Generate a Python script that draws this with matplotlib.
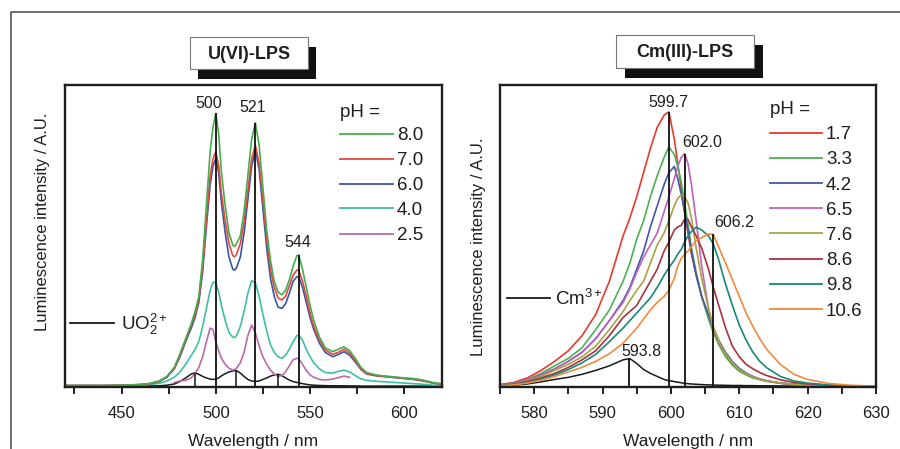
import numpy as np
import matplotlib
matplotlib.use("Agg")
import matplotlib.pyplot as plt
from matplotlib.patches import Rectangle
from matplotlib.lines import Line2D
from matplotlib.ticker import MultipleLocator

plt.rcParams['font.family'] = ['Liberation Sans', 'DejaVu Sans']
plt.rcParams['mathtext.fontset'] = 'custom'
plt.rcParams['mathtext.rm'] = 'Liberation Sans'
plt.rcParams['mathtext.it'] = 'Liberation Sans:italic'
plt.rcParams['mathtext.bf'] = 'Liberation Sans:bold'

W, H = 900, 449
nan = np.nan

# ---- U(VI)-LPS spectra ----
wl_u = np.array([420, 440, 450, 460, 465, 470, 474, 478, 481, 484,
                 487, 489, 491, 493, 495, 497, 498.5, 500, 501.5, 503,
                 505, 507, 509, 510, 511, 513, 515, 517, 519, 521,
                 523, 525, 527, 529, 531, 533, 535, 537, 539, 541,
                 543, 544, 546, 548, 550, 552, 555, 558, 562, 565,
                 568, 571, 574, 577, 580, 585, 590, 595, 600, 605,
                 610, 615, 620])
u_ph80 = [0.5, 0.5, 0.6, 0.8, 1.2, 2, 3.5, 6.5, 11, 16,
          21, 25, 30, 42, 60, 78, 86, 90.6, 84, 71,
          60, 51, 47, 46.5, 47.5, 50, 58, 70, 82, 87.5,
          80, 66, 52, 42, 35, 31.5, 30.5, 32, 35.5, 40,
          43.5, 43.7, 39, 33, 27, 22, 16.5, 13, 11.7, 12.5,
          13.3, 12, 9.5, 6.5, 4.8, 4, 3.6, 3.3, 3, 2.8,
          2.3, 1.5, 1]
u_ph70 = [0.5, 0.5, 0.6, 0.8, 1.1, 1.9, 3.3, 6.2, 10.5, 15.5,
          20.5, 24, 29, 40, 55, 70, 75.5, 77.9, 73.5, 64,
          55, 47.5, 43.5, 43.1, 44, 47.5, 54.5, 65, 75.5, 80.1,
          74, 62, 49, 39, 33, 29.5, 28.8, 30, 33.5, 37,
          38.7, 38.7, 35, 30, 24.5, 20, 15.5, 12.3, 10.8, 11.5,
          12.5, 11.2, 8.8, 6.1, 4.5, 3.8, 3.5, 3.2, 2.9, 2.6,
          2.1, 1.4, 1]
u_ph60 = [0.5, 0.5, 0.6, 0.8, 1.1, 1.8, 3.2, 6, 10, 15,
          19.5, 23, 28, 38, 53, 67, 73, 75.7, 71, 61,
          51, 43, 39, 38.7, 39.5, 43, 51, 62, 73, 78.5,
          72, 59, 46, 36, 30, 26.5, 26, 27.5, 31, 35,
          36.5, 36.5, 33, 28, 23, 19, 14.5, 11.5, 10, 10.8,
          11.7, 10.5, 8.3, 5.8, 4.3, 3.7, 3.4, 3.1, 2.8, 2.5,
          2, 1.3, 0.9]
u_ph40 = [0.4, 0.4, 0.5, 0.6, 0.8, 1.2, 2, 3.2, 5, 7.5,
          10.5, 12.5, 15, 20, 26, 32, 34.7, 34.5, 31.5, 27,
          22, 18, 16.5, 16.4, 17, 20, 25, 31, 35.2, 34.5,
          30, 24, 18.5, 14, 11.5, 10, 9.5, 10.5, 12.5, 15,
          17, 17.2, 15.5, 12.5, 10, 8, 6, 4.8, 4.6, 5.2,
          5.6, 5, 3.8, 2.7, 2.2, 1.9, 1.7, 1.5, 1.3, 1.1,
          0.9, 0.6, 0.5]
u_ph25 = [nan, nan, nan, nan, nan, nan, nan, 1.5, 2, 2.2,
          3, 4.5, 6.5, 10, 15, 19.5, 19, 15, 12, 9.5,
          7.5, 6.2, 5.6, 5.8, 6.2, 8, 11.5, 17, 20.5, 18,
          13.5, 10, 7.5, 5.6, 4.3, 3.5, 3.8, 5, 7, 9,
          9.5, 9.3, 7.5, 5.5, 4, 3.2, 2.5, 2.3, 2.6, 3.1,
          3.6, 3.2, nan, nan, nan, nan, nan, nan, nan, nan,
          nan, nan, nan]
u_free = [0.3, 0.3, 0.3, 0.3, 0.35, 0.4, 0.6, 1, 1.8, 3,
          4.3, 4.7, 4.2, 3.5, 3, 2.6, 2.5, 2.6, 3, 3.7,
          4.4, 5, 5.3, 5.4, 5.4, 4.6, 3.5, 2.5, 2, 1.8,
          2, 2.5, 3, 3.6, 4, 4.2, 3.8, 3, 2.3, 1.8,
          1.5, 1.4, 1.1, 0.9, 0.7, 0.6, 0.5, 0.45, 0.4, 0.4,
          0.4, 0.35, 0.35, 0.3, 0.3, 0.3, 0.3, 0.3, 0.3, 0.3,
          0.3, 0.3, 0.3]
u_labels = ['8.0', '7.0', '6.0', '4.0', '2.5']
u_colors = ['#45ad4c', '#e8473c', '#3b55a6', '#3dbfa6', '#b96aab']
u_peaks = [500, 521, 544]
u_free_peaks = [489, 510.5, 533]

# ---- Cm(III)-LPS spectra ----
wl_cm = np.array([575, 577, 579, 581, 583, 585, 587, 589, 591, 593,
                  594, 595, 596, 597, 598, 599, 599.7, 600.5, 601, 601.5,
                  602, 602.5, 603, 603.7, 604.5, 605.5, 606.2, 607, 608, 609,
                  610, 611, 612, 613, 614, 616, 618, 620, 623, 626,
                  630])
cm_ph17 = [0.8, 1.5, 3, 5.5, 8.5, 12, 17, 24, 35, 50,
           56, 63, 71, 79, 86, 90, 91.1, 82, 74, 66,
           58, 51, 44, 37, 30, 23, 18.5, 14.5, 10.5, 7.5,
           5.5, 4.2, 3.2, 2.5, 2, 1.3, 0.9, 0.6, 0.4, 0.3,
           0.2]
cm_ph33 = [0.7, 1.3, 2.5, 4.5, 7, 9.5, 13, 19, 25.5, 35,
           41, 49, 55, 63, 70, 76, 79.5, 77, 73, 68,
           61, 54, 46, 38, 30, 22.5, 18, 14, 10, 7.2,
           5.2, 4, 3, 2.4, 1.9, 1.2, 0.8, 0.6, 0.4, 0.3,
           0.2]
cm_ph42 = [0.6, 1.2, 2.3, 4, 6, 8.5, 11.5, 16, 22, 28.6,
           33, 39, 45, 53, 60, 67, 71, 73, 69, 64,
           58, 52, 45, 37, 30, 24, 19.7, 15.5, 11.5, 8.4,
           6.2, 4.6, 3.5, 2.7, 2.1, 1.3, 0.9, 0.6, 0.4, 0.3,
           0.2]
cm_ph65 = [0.6, 1.2, 2.3, 4, 6, 8.5, 11.5, 16, 22, 28,
           32.5, 38, 43, 47, 51, 58, 63, 69, 73, 76,
           77.3, 74, 67, 55, 40, 26, 19.5, 15, 11, 8,
           5.8, 4.3, 3.3, 2.6, 2, 1.3, 0.9, 0.6, 0.4, 0.3,
           0.2]
cm_ph76 = [0.5, 1, 2, 3.5, 5.5, 7.5, 10, 13.5, 19, 25,
           28.6, 32, 35, 41, 47, 51, 55, 60, 62.5, 63.5,
           63, 61, 56, 46, 36, 26, 20, 15.3, 11, 8,
           5.8, 4.3, 3.3, 2.6, 2, 1.3, 0.9, 0.6, 0.4, 0.3,
           0.2]
cm_ph86 = [0.5, 0.9, 1.8, 3, 4.5, 6.5, 9, 12, 17, 23,
           25, 27, 31, 35, 39, 45, 48, 52, 53, 53.5,
           55.5, 55.5, 53, 50, 46, 39, 33, 27, 19.5, 13.5,
           10, 7.5, 6, 4.8, 3.8, 2.4, 1.5, 1, 0.6, 0.4,
           0.2]
cm_ph98 = [0.4, 0.8, 1.5, 2.6, 4, 5.8, 8, 10.8, 15, 19.5,
           22, 24.5, 27, 29.5, 33, 37, 39.5, 42, 44, 45.5,
           48, 50, 51.5, 52.9, 52, 50, 47.4, 42, 34, 27,
           20.5, 15.5, 11.5, 8.5, 6.4, 3.5, 2, 1.3, 0.7, 0.4,
           0.2]
cm_ph106 = [0.4, 0.7, 1.3, 2.2, 3.5, 5, 6.5, 8.5, 11, 14.5,
            17, 19.5, 22.5, 25.5, 28, 30, 32, 36, 40, 42.5,
            44, 45, 46.5, 48.5, 49.5, 50.7, 50.5, 46.3, 41, 35.5,
            30, 24.5, 20, 16, 12.5, 7.5, 4.2, 2.5, 1.2, 0.6,
            0.3]
cm_free = [0.3, 0.6, 1, 1.7, 2.5, 3.2, 4.2, 5.5, 7, 9,
           9.4, 7.8, 5.8, 4.5, 3.5, 2.5, 2.1, 1.8, 1.6, 1.4,
           1.2, 1.1, 1, 0.9, 0.8, 0.7, 0.65, 0.6, 0.55, 0.5,
           0.5, 0.45, 0.45, 0.4, 0.4, 0.35, 0.3, 0.3, 0.25, 0.2,
           0.2]
cm_labels = ['1.7', '3.3', '4.2', '6.5', '7.6', '8.6', '9.8', '10.6']
cm_colors = ['#e8392e', '#4cb051', '#4156ad', '#c062bd', '#a9a243',
             '#a8323f', '#15897a', '#f08a3c']
cm_peaks = [593.8, 599.7, 602.0, 606.2]


def fx(px):
    return px / W


def fy(py):
    return 1 - py / H


fig = plt.figure(figsize=(W / 100, H / 100), dpi=100)


def put_text(px, py, s, fs, **kw):
    # place text so that its digit/cap centre sits at pixel row py
    fig.text(fx(px), fy(py + 0.358 * fs * 100 / 72), s, fontsize=fs,
             va='baseline', color='#1e1e1e', **kw)


def setup_axes(ax, xlim, major, minor):
    ax.set_xlim(*xlim)
    ax.set_ylim(0, 100)
    ax.set_yticks([])
    ax.xaxis.set_major_locator(MultipleLocator(major))
    ax.xaxis.set_minor_locator(MultipleLocator(minor))
    ax.tick_params(axis='x', which='both', direction='out', length=5,
                   width=1.4, pad=9, labelsize=12, color='#1e1e1e',
                   labelcolor='#1e1e1e')
    for s in ax.spines.values():
        s.set_linewidth(1.7)
        s.set_color('#1e1e1e')
    ax.set_xlabel('Wavelength / nm', fontsize=12.5, labelpad=9,
                  color='#1e1e1e')


def draw_key(x0, x1, y_title, y_first, step, labels, colors):
    put_text(x0, y_title, 'pH =', 13.5)
    for i, (lab, col) in enumerate(zip(labels, colors)):
        y = y_first + i * step
        fig.add_artist(Line2D([fx(x0), fx(x1)], [fy(y), fy(y)],
                              color=col, lw=1.3))
        put_text(x1 + 4, y, lab, 13.5)


def title_box(x0, y0, x1, y1, dx, dy, s):
    fig.add_artist(Rectangle((fx(x0 + dx), fy(y1 + dy)), (x1 - x0) / W,
                             (y1 - y0) / H, facecolor='#111111',
                             edgecolor='none'))
    fig.add_artist(Rectangle((fx(x0), fy(y1)), (x1 - x0) / W,
                             (y1 - y0) / H, facecolor='white',
                             edgecolor='#777777', lw=0.8))
    fig.text(fx((x0 + x1) / 2), fy((y0 + y1) / 2 + 5.8), s, fontsize=13,
             fontweight='bold', ha='center', va='baseline', color='#1e1e1e')


# outer frame
fig.add_artist(Line2D([fx(11), fx(11), fx(900)], [fy(449), fy(12), fy(12)],
                      color='#555555', lw=1.2))

# ---- left panel ----
axL = fig.add_axes([fx(65), fy(387), (442 - 65) / W, (387 - 85) / H])
setup_axes(axL, (420, 620), 50, 25)
axL.plot(wl_u, u_free, color='#1a1a1a', lw=1.1)
for ys, col in zip([u_ph25, u_ph40, u_ph60, u_ph70, u_ph80],
                   u_colors[::-1]):
    axL.plot(wl_u, ys, color=col, lw=1.2)
axL.vlines(u_peaks, 0, np.interp(u_peaks, wl_u, u_ph80), color='#111111',
           lw=1.3)
axL.vlines(u_free_peaks, 0, np.interp(u_free_peaks, wl_u, u_free),
           color='#111111', lw=1.1)
put_text(209, 102, '500', 11.5, ha='center')
put_text(253, 106, '521', 11.5, ha='center')
put_text(298, 241, '544', 11.5, ha='center')
draw_key(340, 393, 110, 133.5, 25, u_labels, u_colors)
fig.add_artist(Line2D([fx(70), fx(114)], [fy(323), fy(323)],
                      color='#1a1a1a', lw=1.3))
put_text(121, 323, 'UO$_2^{2+}$', 13.5)
fig.text(fx(43), fy(222), 'Luminescence intensity / A.U.', rotation=90,
         fontsize=12, ha='center', va='center', color='#1e1e1e')
title_box(190, 37, 308, 69, 8, 10, 'U(VI)-LPS')

# ---- right panel ----
axR = fig.add_axes([fx(500), fy(387), (876 - 500) / W, (387 - 85) / H])
setup_axes(axR, (575, 630), 10, 5)
axR.plot(wl_cm, cm_free, color='#1a1a1a', lw=1.1)
cm_series = [cm_ph17, cm_ph33, cm_ph42, cm_ph65, cm_ph76, cm_ph86,
             cm_ph98, cm_ph106]
for ys, col in zip(cm_series, cm_colors):
    axR.plot(wl_cm, ys, color=col, lw=1.2)
cm_tops = [np.interp(p, wl_cm, s) for p, s in
           zip(cm_peaks, [cm_free, cm_ph17, cm_ph65, cm_ph106])]
axR.vlines(cm_peaks, 0, cm_tops, color='#111111', lw=1.3)
put_text(668, 101, '599.7', 11.5, ha='center')
put_text(702, 141, '602.0', 11.5, ha='center')
put_text(734, 221, '606.2', 11.5, ha='center')
put_text(641, 350, '593.8', 11.5, ha='center')
draw_key(770, 822, 107, 132.5, 25.2, cm_labels, cm_colors)
fig.add_artist(Line2D([fx(507), fx(550)], [fy(298), fy(298)],
                      color='#1a1a1a', lw=1.3))
put_text(555, 298, 'Cm$^{3+}$', 13.5)
fig.text(fx(478), fy(247), 'Luminescence intensity / A.U.', rotation=90,
         fontsize=12, ha='center', va='center', color='#1e1e1e')
title_box(616, 35, 754, 68, 9, 10, 'Cm(III)-LPS')

fig.savefig('out.png', dpi=100)
